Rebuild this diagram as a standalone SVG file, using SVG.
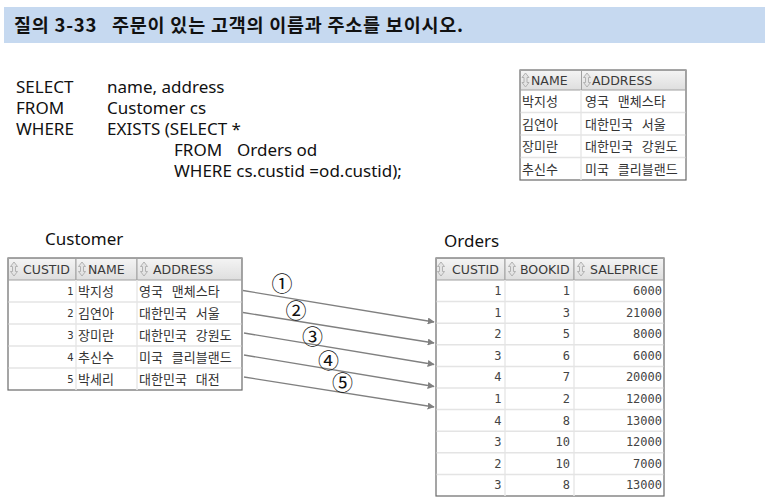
<svg xmlns="http://www.w3.org/2000/svg" width="769" height="502" viewBox="0 0 769 502">
<style>
.title{font-family:"Noto Sans CJK KR","Noto Sans",sans-serif;font-size:18.5px;font-weight:bold;fill:#111}
.sql{font-family:"Noto Sans","Noto Sans CJK KR",sans-serif;font-size:17px;fill:#111}
.cap{font-family:"Noto Sans","Noto Sans CJK KR",sans-serif;font-size:17px;fill:#111}
.hd{font-family:"DejaVu Sans",sans-serif;font-size:12.5px;fill:#3a3a3a}
.ko{font-family:"Noto Sans CJK KR",sans-serif;font-size:13px;fill:#333;word-spacing:6px}
.id{font-family:"DejaVu Sans",sans-serif;font-size:10px;fill:#333;text-anchor:end}
.num{font-family:"DejaVu Sans Mono",monospace;font-size:12px;fill:#444;text-anchor:end}
.outer{fill:#fff;stroke:#6a6a6a;stroke-width:1.2}
.hbg{fill:url(#hg);stroke:#a0a0a0;stroke-width:1}
.rsep{stroke:#e4e4e4;stroke-width:1.5}
.csep{stroke:#e8e8e8;stroke-width:1.5}
.arr{stroke:#808080;stroke-width:1.3;fill:none;marker-end:url(#ah)}
.circ{font-family:"Noto Sans CJK KR",sans-serif;font-size:21px;fill:#111;text-anchor:middle}
</style>
<defs>
<linearGradient id="hg" x1="0" y1="0" x2="0" y2="1">
<stop offset="0" stop-color="#f4f4f4"/>
<stop offset="1" stop-color="#dedede"/>
</linearGradient>
<marker id="ah" viewBox="0 0 10 10" refX="9" refY="5" markerWidth="7" markerHeight="7" markerUnits="userSpaceOnUse" orient="auto">
<path d="M0,0 L10,5 L0,10 Z" fill="#808080"/>
</marker>
<g id="sort">
<path d="M0,-7 L3.5,-2.5 L1.5,-2.5 L1.5,2.5 L3.5,2.5 L0,7 L-3.5,2.5 L-1.5,2.5 L-1.5,-2.5 L-3.5,-2.5 Z" fill="#e4e4e4" stroke="#ababab" stroke-width="0.9"/>
</g>
</defs>

<g id="title">
<rect x="4" y="7" width="761" height="36" fill="#c6d9f0"/>
<text class="title" x="14" y="31.5" xml:space="preserve" textLength="449" lengthAdjust="spacing">질의 3-33   주문이 있는 고객의 이름과 주소를 보이시오.</text>
</g>

<g id="sql">
<text class="sql" x="16" y="93">SELECT</text>
<text class="sql" x="107" y="93">name, address</text>
<text class="sql" x="16" y="114">FROM</text>
<text class="sql" x="107" y="114">Customer cs</text>
<text class="sql" x="16" y="135">WHERE</text>
<text class="sql" x="107" y="135">EXISTS (SELECT *</text>
<text class="sql" x="174" y="156">FROM</text>
<text class="sql" x="237" y="156">Orders od</text>
<text class="sql" x="174" y="177">WHERE cs.custid =od.custid);</text>
</g>

<g id="result">
<rect class="outer" x="520" y="70" width="166" height="110"/>
<rect class="hbg" x="520.5" y="70.5" width="61" height="19.5"/>
<rect class="hbg" x="581.5" y="70.5" width="104" height="19.5"/>
<line class="csep" x1="581" y1="90" x2="581" y2="180"/>
<line class="rsep" x1="520.6" y1="112.5" x2="685.4" y2="112.5"/>
<line class="rsep" x1="520.6" y1="135" x2="685.4" y2="135"/>
<line class="rsep" x1="520.6" y1="157.5" x2="685.4" y2="157.5"/>
<use href="#sort" x="525.5" y="80"/>
<text class="hd" x="531" y="84.5">NAME</text>
<use href="#sort" x="587" y="80"/>
<text class="hd" x="592" y="84.5">ADDRESS</text>
<text class="ko" x="522" y="106">박지성</text><text class="ko" x="585" y="106">영국 맨체스타</text>
<text class="ko" x="522" y="128.5">김연아</text><text class="ko" x="585" y="128.5">대한민국 서울</text>
<text class="ko" x="522" y="151">장미란</text><text class="ko" x="585" y="151">대한민국 강원도</text>
<text class="ko" x="522" y="173.5">추신수</text><text class="ko" x="585" y="173.5">미국 클리블랜드</text>
</g>

<g id="customer">
<text class="cap" x="45" y="245">Customer</text>
<rect class="outer" x="8" y="258" width="234" height="132"/>
<rect class="hbg" x="8.5" y="258.5" width="67.5" height="21.5"/>
<rect class="hbg" x="76" y="258.5" width="61" height="21.5"/>
<rect class="hbg" x="137" y="258.5" width="104.5" height="21.5"/>
<line class="csep" x1="76" y1="280" x2="76" y2="390"/>
<line class="csep" x1="137" y1="280" x2="137" y2="390"/>
<line class="rsep" x1="8.6" y1="302" x2="241.4" y2="302"/>
<line class="rsep" x1="8.6" y1="324" x2="241.4" y2="324"/>
<line class="rsep" x1="8.6" y1="346" x2="241.4" y2="346"/>
<line class="rsep" x1="8.6" y1="368" x2="241.4" y2="368"/>
<use href="#sort" x="14" y="269"/>
<text class="hd" x="23" y="273.5">CUSTID</text>
<use href="#sort" x="82" y="269"/>
<text class="hd" x="88" y="273.5">NAME</text>
<use href="#sort" x="144" y="269"/>
<text class="hd" x="153" y="273.5">ADDRESS</text>
<text class="id" x="73.5" y="295">1</text><text class="ko" x="78" y="296">박지성</text><text class="ko" x="139" y="296">영국 맨체스타</text>
<text class="id" x="73.5" y="317">2</text><text class="ko" x="78" y="318">김연아</text><text class="ko" x="139" y="318">대한민국 서울</text>
<text class="id" x="73.5" y="339">3</text><text class="ko" x="78" y="340">장미란</text><text class="ko" x="139" y="340">대한민국 강원도</text>
<text class="id" x="73.5" y="361">4</text><text class="ko" x="78" y="362">추신수</text><text class="ko" x="139" y="362">미국 클리블랜드</text>
<text class="id" x="73.5" y="383">5</text><text class="ko" x="78" y="384">박세리</text><text class="ko" x="139" y="384">대한민국 대전</text>
</g>

<g id="orders">
<text class="cap" x="444" y="247">Orders</text>
<rect class="outer" x="436" y="258" width="228" height="238"/>
<rect class="hbg" x="436.5" y="258.5" width="68.5" height="21.5"/>
<rect class="hbg" x="505" y="258.5" width="69" height="21.5"/>
<rect class="hbg" x="574" y="258.5" width="89.5" height="21.5"/>
<line class="csep" x1="505" y1="280" x2="505" y2="496"/>
<line class="csep" x1="574" y1="280" x2="574" y2="496"/>
<line class="rsep" x1="436.6" y1="301.6" x2="663.4" y2="301.6"/>
<line class="rsep" x1="436.6" y1="323.2" x2="663.4" y2="323.2"/>
<line class="rsep" x1="436.6" y1="344.8" x2="663.4" y2="344.8"/>
<line class="rsep" x1="436.6" y1="366.4" x2="663.4" y2="366.4"/>
<line class="rsep" x1="436.6" y1="388" x2="663.4" y2="388"/>
<line class="rsep" x1="436.6" y1="409.6" x2="663.4" y2="409.6"/>
<line class="rsep" x1="436.6" y1="431.2" x2="663.4" y2="431.2"/>
<line class="rsep" x1="436.6" y1="452.8" x2="663.4" y2="452.8"/>
<line class="rsep" x1="436.6" y1="474.4" x2="663.4" y2="474.4"/>
<use href="#sort" x="441" y="269"/>
<text class="hd" x="452" y="273.5">CUSTID</text>
<use href="#sort" x="512" y="269"/>
<text class="hd" x="520" y="273.5">BOOKID</text>
<use href="#sort" x="581" y="269"/>
<text class="hd" x="590" y="273.5">SALEPRICE</text>
<text class="num" x="501.5" y="295">1</text><text class="num" x="570" y="295">1</text><text class="num" x="662" y="295">6000</text>
<text class="num" x="501.5" y="316.6">1</text><text class="num" x="570" y="316.6">3</text><text class="num" x="662" y="316.6">21000</text>
<text class="num" x="501.5" y="338.2">2</text><text class="num" x="570" y="338.2">5</text><text class="num" x="662" y="338.2">8000</text>
<text class="num" x="501.5" y="359.8">3</text><text class="num" x="570" y="359.8">6</text><text class="num" x="662" y="359.8">6000</text>
<text class="num" x="501.5" y="381.4">4</text><text class="num" x="570" y="381.4">7</text><text class="num" x="662" y="381.4">20000</text>
<text class="num" x="501.5" y="403">1</text><text class="num" x="570" y="403">2</text><text class="num" x="662" y="403">12000</text>
<text class="num" x="501.5" y="424.6">4</text><text class="num" x="570" y="424.6">8</text><text class="num" x="662" y="424.6">13000</text>
<text class="num" x="501.5" y="446.2">3</text><text class="num" x="570" y="446.2">10</text><text class="num" x="662" y="446.2">12000</text>
<text class="num" x="501.5" y="467.8">2</text><text class="num" x="570" y="467.8">10</text><text class="num" x="662" y="467.8">7000</text>
<text class="num" x="501.5" y="489.4">3</text><text class="num" x="570" y="489.4">8</text><text class="num" x="662" y="489.4">13000</text>
</g>

<g id="connectors">
<line class="arr" x1="243" y1="290.5" x2="434" y2="322"/>
<line class="arr" x1="243" y1="312.5" x2="434" y2="343"/>
<line class="arr" x1="244" y1="333" x2="434" y2="364.5"/>
<line class="arr" x1="244" y1="355" x2="434" y2="386.5"/>
<line class="arr" x1="244" y1="377" x2="434" y2="407"/>
<text class="circ" x="282" y="291">①</text>
<text class="circ" x="296" y="317.5">②</text>
<text class="circ" x="312.5" y="343.5">③</text>
<text class="circ" x="328.5" y="367.5">④</text>
<text class="circ" x="342.5" y="390">⑤</text>
</g>
</svg>
